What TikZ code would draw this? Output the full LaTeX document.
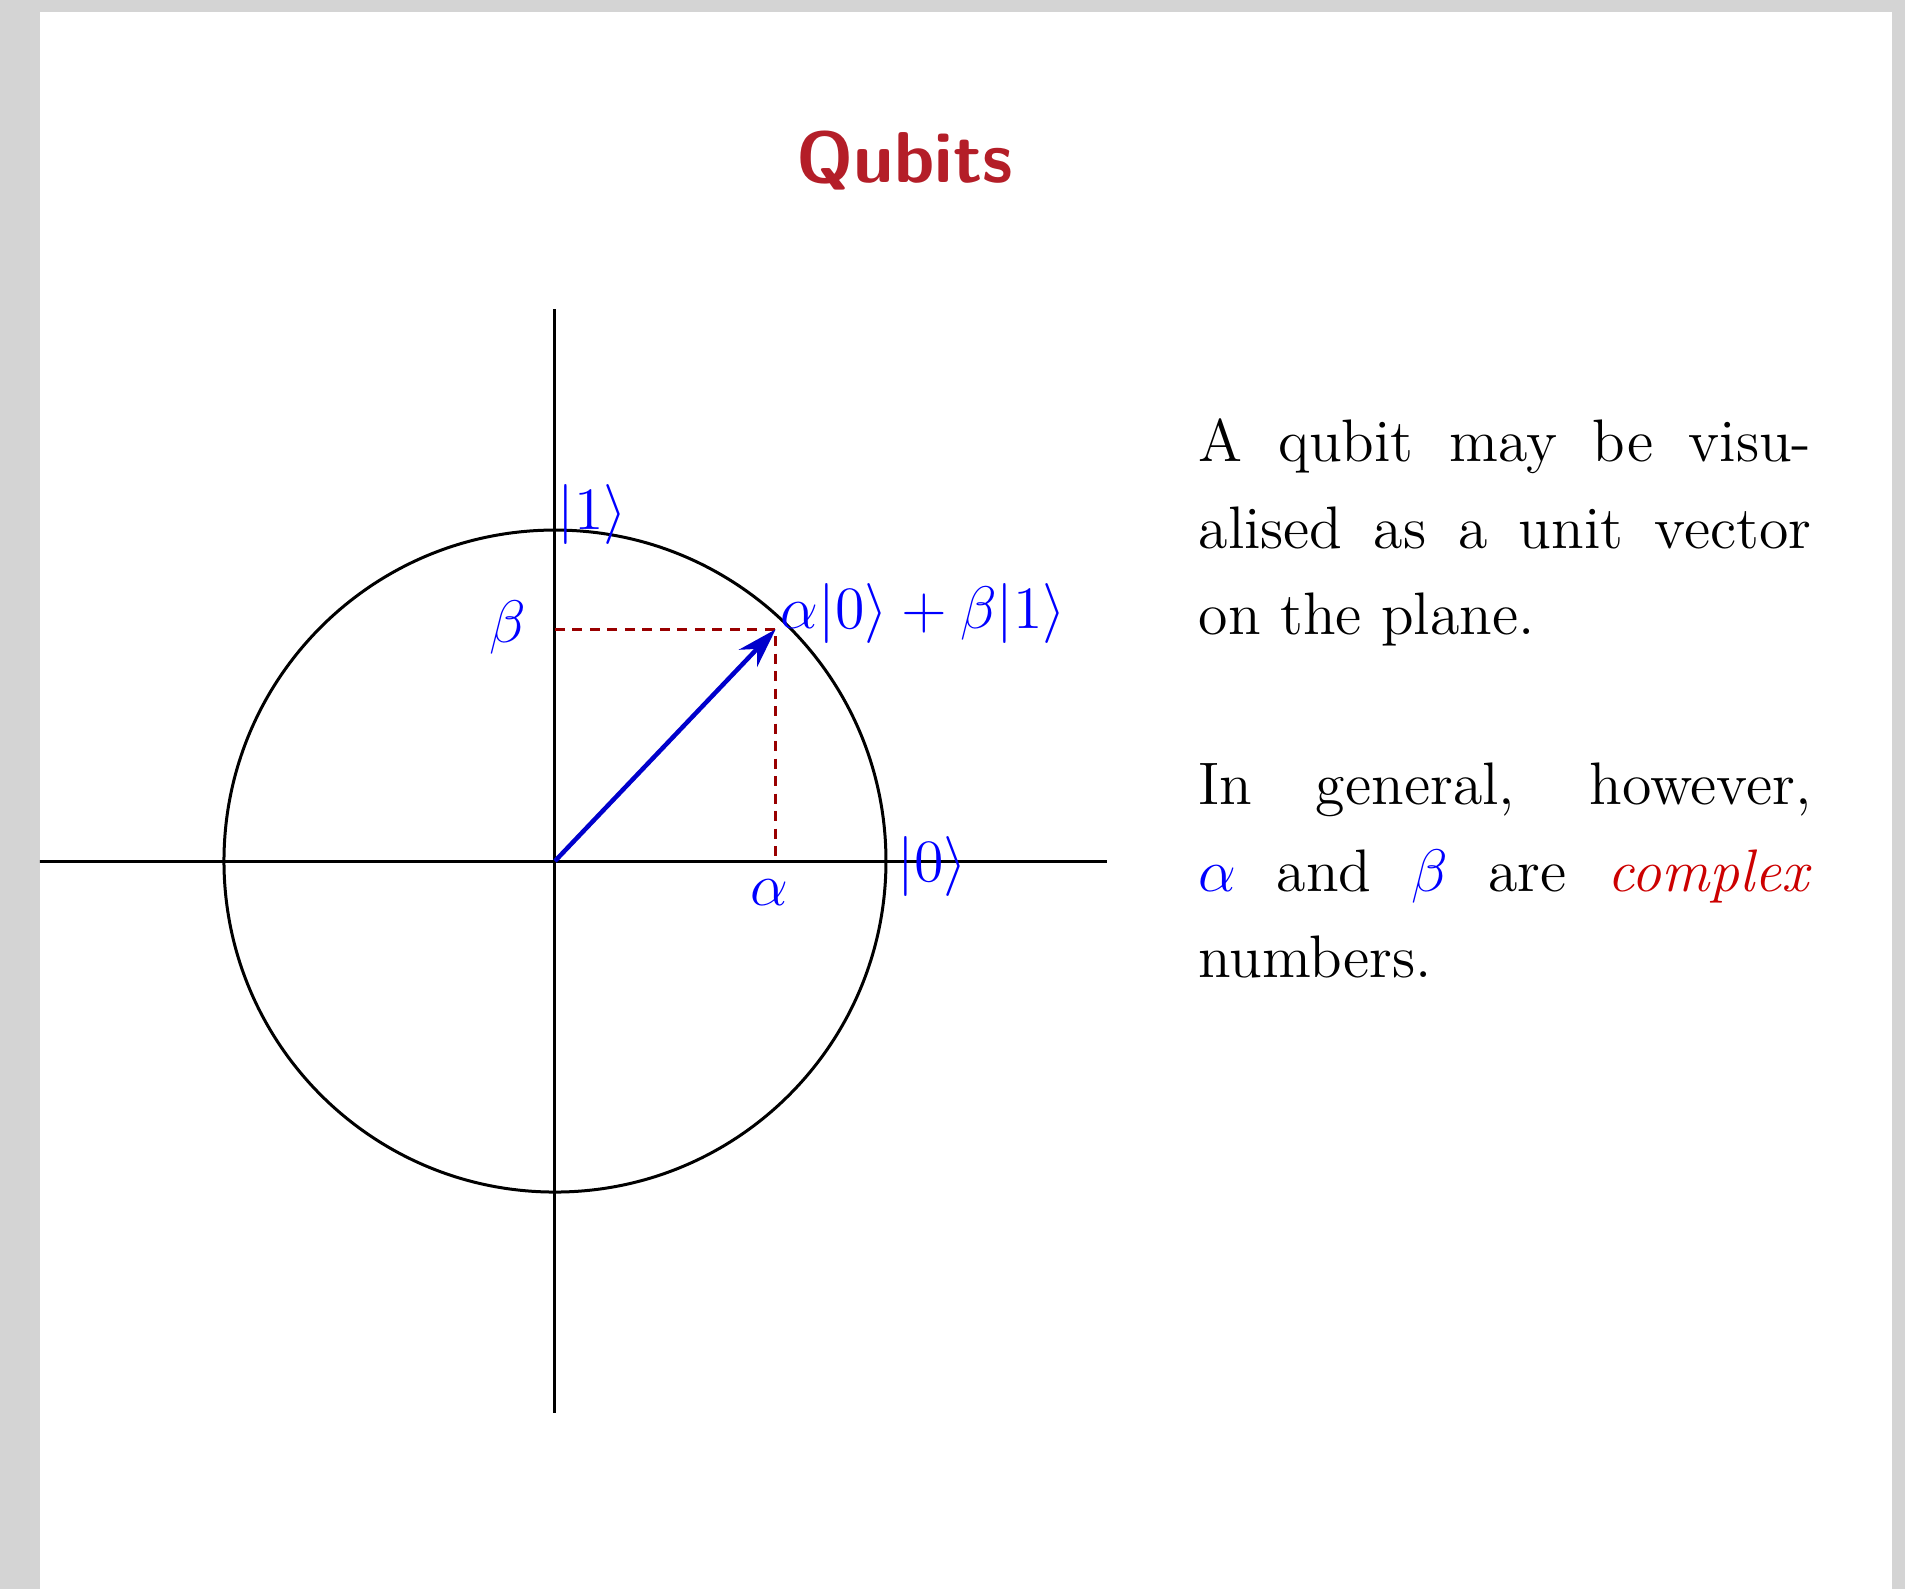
\documentclass[tikz,border=0pt]{standalone}
\usetikzlibrary{arrows.meta}
\definecolor{slidegrey}{HTML}{D4D4D4}
\definecolor{titlered}{RGB}{180,30,40}
\hyphenation{visu-alised numbers}
\begin{document}
\begin{tikzpicture}[line width=0.6pt, scale=0.7756, font=\fontsize{12}{17.3}\selectfont]
\fill[slidegrey] (-5.03,-6.598) rectangle (12.236,7.804);
\fill[white] (-4.668,-6.598) rectangle (12.118,7.695);
\clip (-4.668,-6.598) rectangle (12.118,7.695);

\node[text=titlered, font=\sffamily\bfseries\fontsize{14.4}{17}\selectfont] (title) at (3.17,6.35) {Qubits};

\coordinate (O) at (0,0);
\coordinate (P) at (2,2.1);
\coordinate (Pb) at (0,2.1);
\coordinate (Pa) at (2,0);
\draw (-5,0) -- (5,0);
\draw (0,-5) -- (0,5);
\draw (O) circle (3);
\draw[red!60!black, line width=0.5pt, dash pattern=on 2pt off 1.5pt] (Pb) -- (P) -- (Pa);
\draw[blue!80!black, line width=0.9pt, -{Stealth[length=8pt,width=5pt]}] (O) -- (P);

\node[blue] (ket1) at (0.34,3.14) {$|1\rangle$};
\node[blue] (ket0) at (3.42,-0.05) {$|0\rangle$};
\node[blue] (state) at (3.34,2.24) {$\alpha|0\rangle+\beta|1\rangle$};
\node[blue] (beta) at (-0.43,2.12) {$\beta$};
\node[blue] (alpha) at (1.94,-0.29) {$\alpha$};

\node[anchor=north west, inner sep=0pt, text width=122.6pt, align=justify] (visual) at (5.82,4.02)
  {A qubit may be visualised as a unit vector on the plane.};
\node[anchor=north west, inner sep=0pt, text width=122.6pt, align=justify] (general) at (5.82,0.90)
  {In general, however,\linebreak \textcolor{blue}{$\alpha$} and \textcolor{blue}{$\beta$} are \textcolor{red!80!black}{\emph{complex}}\linebreak numbers.};
\end{tikzpicture}
\end{document}
